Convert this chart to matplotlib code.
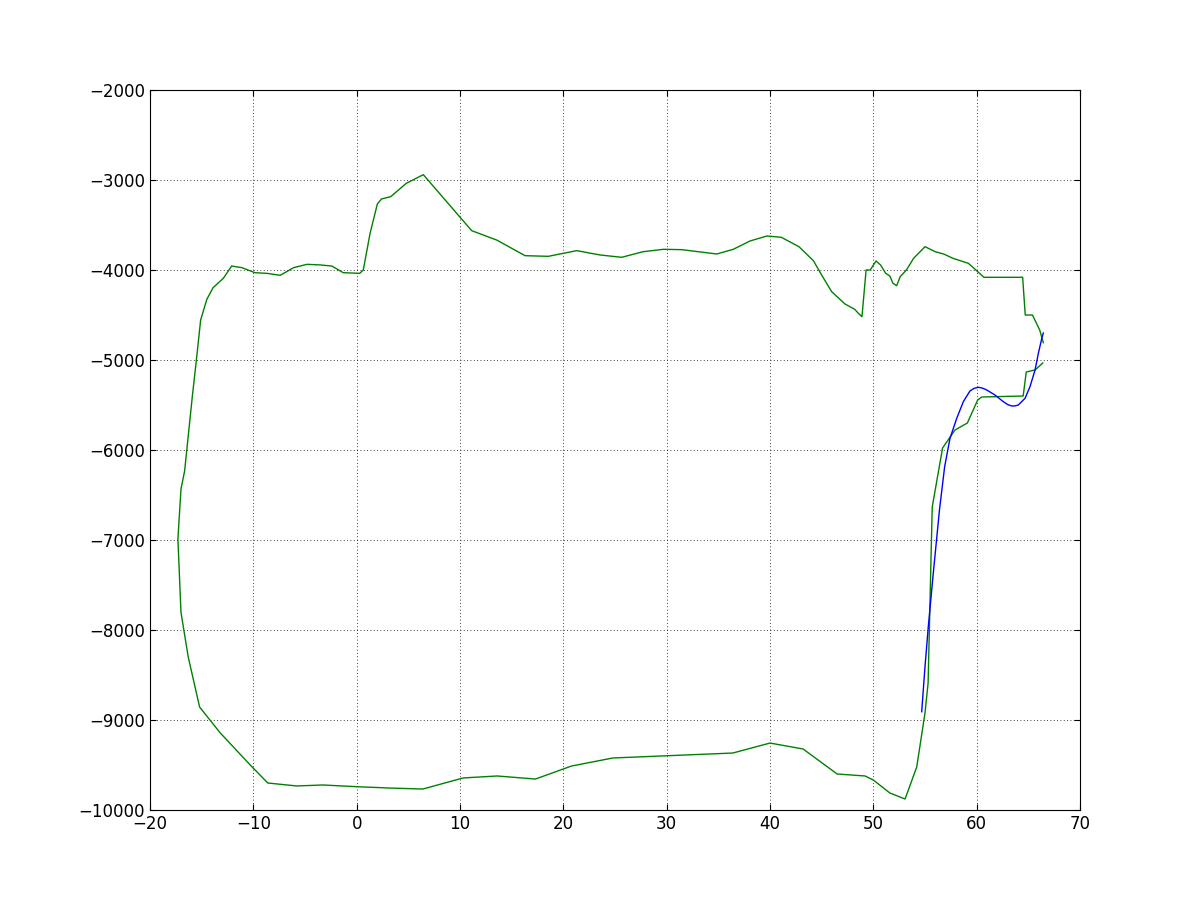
import numpy as np
import matplotlib
matplotlib.use('Agg')
import matplotlib.pyplot as plt


path_x = [66.45, 66.1, 65.4, 64.7, 64.45, 60.7, 60.0, 59.2, 57.7, 56.8, 56.0, 55.0,
          53.9, 53.2, 52.6, 52.26, 51.9, 51.6, 51.2, 50.7, 50.26, 49.7, 49.3, 48.9,
          48.55, 48.2, 47.26, 45.97, 45.0, 44.2, 42.8, 41.1, 39.7, 38.06, 36.45, 34.85,
          31.45, 29.7, 27.7, 25.65, 23.55, 21.3, 18.55, 16.3, 13.55, 11.13, 6.45, 4.8,
          3.3, 2.4, 2.0, 1.3, 0.64, 0.3, -1.3, -2.4, -3.5, -4.8, -6.1, -7.4, -8.7,
          -9.84, -11.1, -12.1, -12.9, -13.9, -14.5, -15.1, -15.5, -15.9, -16.65, -17.0,
          -17.3, -17.0, -16.3, -15.2, -13.2, -10.3, -8.6, -5.8, -3.3, 0.0, 3.2, 6.4,
          10.3, 13.6, 17.3, 20.8, 24.8, 36.4, 40.0, 43.2, 46.5, 49.2, 50.0, 51.6,
          53.07, 54.2, 55.0, 55.3, 55.7, 56.7, 57.9, 59.1, 60.1, 60.5, 64.5, 64.8,
          65.65, 66.4]
path_y = [-4808, -4667, -4500, -4500, -4081, -4081, -4008, -3926, -3870, -3822, -3797, -3741,
          -3870, -4000, -4074, -4174, -4148, -4067, -4037, -3944, -3900, -4000, -4000, -4519,
          -4481, -4437, -4378, -4241, -4056, -3897, -3741, -3637, -3622, -3678, -3770, -3822,
          -3774, -3770, -3797, -3859, -3833, -3785, -3848, -3841, -3667, -3563, -2941, -3037,
          -3185, -3211, -3267, -3592, -4000, -4037, -4030, -3956, -3944, -3937, -3974, -4059, -4037,
          -4030, -3974, -3956, -4092, -4197, -4326, -4556, -4989, -5400, -6233, -6433,
          -6989, -7806, -8300, -8856, -9144, -9500, -9700, -9733, -9722, -9741, -9756, -9767,
          -9644, -9622, -9656, -9511, -9422, -9367, -9256, -9322, -9600, -9622, -9667, -9811,
          -9878, -9522, -8922, -8589, -6633, -5978, -5778, -5700, -5444, -5411, -5400, -5133,
          -5111, -5033]

#fitted curve (blue)
fit_x = [54.68, 55.0, 55.32, 55.8, 56.4, 56.9, 57.42, 58.07, 58.71, 59.35, 59.75, 60.16,
         60.55, 60.97, 61.77, 62.58, 63.0, 63.39, 63.7, 64.03, 64.68, 65.16, 65.65, 65.97,
         66.3, 66.45]
fit_y = [-8908, -8408, -7963, -7370, -6667, -6186, -5870, -5648, -5463, -5344, -5315, -5303,
         -5312, -5333, -5389, -5463, -5495, -5511, -5510, -5500, -5426, -5297, -5111, -4926,
         -4760, -4700]

fig = plt.figure(figsize=(12, 9), dpi=100)
ax = fig.add_axes([0.125, 0.1, 0.775, 0.8])

ax.plot(path_x, path_y, color='#008000', linewidth=1.0)
ax.plot(fit_x, fit_y, color='#0000ff', linewidth=1.0)

ax.set_xlim(-20, 70)
ax.set_ylim(-10000, -2000)
ax.set_xticks(np.arange(-20, 71, 10))
ax.set_yticks(np.arange(-10000, -1999, 1000))

#old style look: sparse dotted grid, ticks inside on every side
ax.grid(True, color='black', linestyle=(0, (1, 3)), linewidth=0.6)
ax.tick_params(direction='in', top=True, right=True, length=4, labelsize=12)

fig.savefig('out.png', dpi=100)
